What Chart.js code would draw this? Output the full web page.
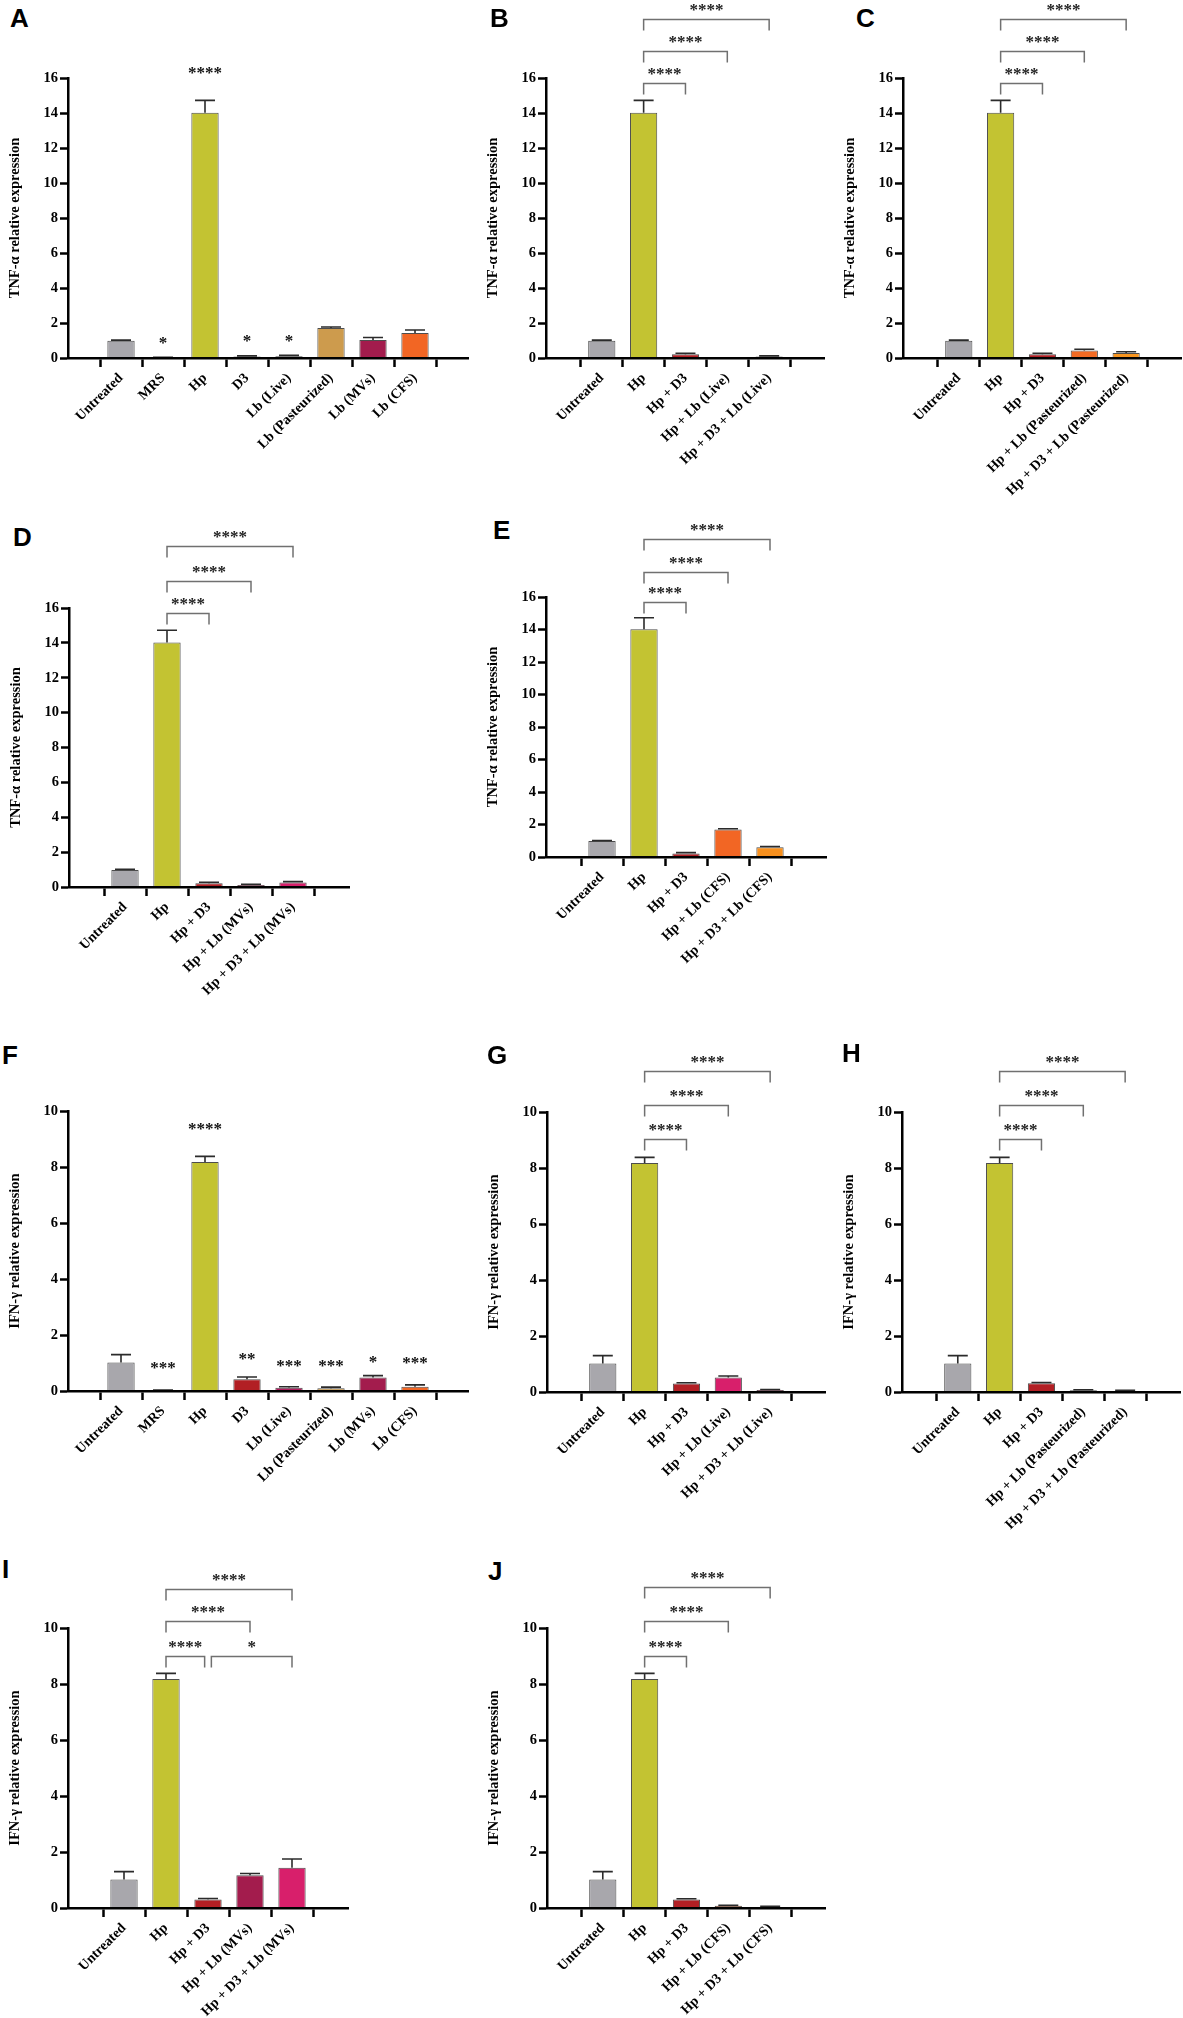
<!DOCTYPE html>
<html>
<head>
<meta charset="utf-8">
<script src="https://cdn.jsdelivr.net/npm/chart.js@4.4.1/dist/chart.umd.min.js"></script>
<style>
  body { margin: 0; background: #fff; width: 1183px; height: 2018px; position: relative; overflow: hidden; }
  canvas { position: absolute; }
  .tag { position: absolute; font: bold 26px 'Liberation Sans', Arial, sans-serif; line-height: 26px; color: #000; }
</style>
</head>
<body>
<script>
// ---- categories ----
const singleLabels = ['Untreated', 'MRS', 'Hp', 'D3', 'Lb (Live)', 'Lb (Pasteurized)', 'Lb (MVs)', 'Lb (CFS)']
const liveLabels = ['Untreated', 'Hp', 'Hp + D3', 'Hp + Lb (Live)', 'Hp + D3 + Lb (Live)']
const pastLabels = ['Untreated', 'Hp', 'Hp + D3', 'Hp + Lb (Pasteurized)', 'Hp + D3 + Lb (Pasteurized)']
const mvsLabels = ['Untreated', 'Hp', 'Hp + D3', 'Hp + Lb (MVs)', 'Hp + D3 + Lb (MVs)']
const cfsLabels = ['Untreated', 'Hp', 'Hp + D3', 'Hp + Lb (CFS)', 'Hp + D3 + Lb (CFS)']

const tnfTitle = 'TNF-α relative expression'
const ifnTitle = 'IFN-γ relative expression'

// ---- TNF-a values (mean, upper error) ----
const tnfA = [0.98, 0.03, 14.02, 0.08, 0.10, 1.72, 1.03, 1.43]
const tnfAErr = [0.04, 0.01, 0.70, 0.04, 0.05, 0.05, 0.14, 0.17]
const tnfAStars = ['', '*', '****', '*', '*', '', '', '']
const tnfAStarLevels = [0, 1.03, 16.44, 1.14, 1.14, 0, 0, 0]

const tnfB = [0.98, 14.02, 0.22, 0.0, 0.08]
const tnfBErr = [0.04, 0.70, 0.05, 0.01, 0.04]
const tnfC = [0.98, 14.02, 0.22, 0.43, 0.28]
const tnfCErr = [0.04, 0.70, 0.05, 0.07, 0.08]
const tnfD = [0.98, 14.02, 0.22, 0.12, 0.26]
const tnfDErr = [0.04, 0.70, 0.05, 0.04, 0.05]
const tnfE = [0.98, 14.02, 0.22, 1.69, 0.60]
const tnfEErr = [0.04, 0.70, 0.05, 0.05, 0.05]

// ---- IFN-g values ----
const ifnF = [1.02, 0.02, 8.18, 0.42, 0.12, 0.10, 0.48, 0.15]
const ifnFErr = [0.28, 0.01, 0.20, 0.08, 0.03, 0.04, 0.07, 0.07]
const ifnFStars = ['', '***', '****', '**', '***', '***', '*', '***']
const ifnFStarLevels = [0, 0.93, 9.46, 1.25, 1.0, 1.0, 1.14, 1.1]

const ifnG = [1.02, 8.18, 0.30, 0.52, 0.07]
const ifnGErr = [0.28, 0.20, 0.03, 0.05, 0.02]
const ifnH = [1.02, 8.18, 0.31, 0.06, 0.04]
const ifnHErr = [0.28, 0.20, 0.03, 0.02, 0.02]
const ifnI = [1.02, 8.18, 0.30, 1.17, 1.44]
const ifnIErr = [0.28, 0.20, 0.04, 0.06, 0.31]
const ifnJ = [1.02, 8.18, 0.30, 0.08, 0.04]
const ifnJErr = [0.28, 0.20, 0.03, 0.02, 0.02]

// ---- significance brackets (x = category number, level = y value) ----
const bracketsB = [
    { from: 2, to: 3, level: 15.71, text: '****' },
    { from: 2, to: 4, level: 17.54, text: '****' },
    { from: 2, to: 5, level: 19.37, text: '****' }
]
const bracketsD = [
    { from: 2, to: 3, level: 15.71, text: '****' },
    { from: 2, to: 4, level: 17.54, text: '****' },
    { from: 2, to: 5, level: 19.54, text: '****' }
]
const bracketsE = [
    { from: 2, to: 3, level: 15.69, text: '****' },
    { from: 2, to: 4, level: 17.54, text: '****' },
    { from: 2, to: 5, level: 19.57, text: '****' }
]
const bracketsGH = [
    { from: 2, to: 3, level: 9.04, text: '****' },
    { from: 2, to: 4, level: 10.25, text: '****' },
    { from: 2, to: 5, level: 11.45, text: '****' }
]
const bracketsI = [
    { from: 2, to: 2.92, level: 9.0, text: '****' },
    { from: 3.08, to: 5, level: 9.0, text: '*' },
    { from: 2, to: 4, level: 10.25, text: '****' },
    { from: 2, to: 5, level: 11.39, text: '****' }
]
const bracketsJ = [
    { from: 2, to: 3, level: 9.0, text: '****' },
    { from: 2, to: 4, level: 10.25, text: '****' },
    { from: 2, to: 5, level: 11.46, text: '****' }
]

// ---- colours ----
const gray = '#a8a7ac', hpCol = '#c3c332', d3Col = '#b21f24'
const singleColors = [gray, '#7d7d7d', hpCol, d3Col, '#b4185c', '#cd9b4d', '#a31c4d', '#f26624']

Chart.defaults.color = '#000'
Chart.defaults.font.family = "'Liberation Serif', 'Times New Roman', serif"
Chart.defaults.font.weight = 'bold'

const marks = {
    id: 'marks',
    afterDatasetsDraw(chart, args, o) {
        const ctx = chart.ctx
        const xs = chart.scales.x
        const ys = chart.scales.y
        const meta = chart.getDatasetMeta(0)
        const pts = chart.data.datasets[0].data
        ctx.save()
        // error bars (upper only)
        ctx.strokeStyle = '#2b2b2b'
        ctx.lineWidth = 1.6
        meta.data.forEach((bar, i) => {
            const e = o.errors[i]
            if (!e) return
            const y0 = ys.getPixelForValue(pts[i].y)
            const y1 = ys.getPixelForValue(pts[i].y + e)
            ctx.beginPath()
            ctx.moveTo(bar.x, y0)
            ctx.lineTo(bar.x, y1)
            ctx.moveTo(bar.x - 10, y1)
            ctx.lineTo(bar.x + 10, y1)
            ctx.stroke()
        })
        ctx.font = "bold 17px 'Liberation Serif', serif"
        ctx.textAlign = 'center'
        ctx.textBaseline = 'alphabetic'
        // stars above single bars
        ctx.fillStyle = '#111'
        ;(o.stars || []).forEach((s, i) => {
            if (!s) return
            ctx.fillText(s, xs.getPixelForValue(i + 1), ys.getPixelForValue(o.starLevels[i]) + 8)
        })
        // brackets
        ctx.strokeStyle = '#707070'
        ctx.lineWidth = 1.5
        ctx.fillStyle = '#222'
        ;(o.brackets || []).forEach(b => {
            const x0 = xs.getPixelForValue(b.from)
            const x1 = xs.getPixelForValue(b.to)
            const y = Math.round(ys.getPixelForValue(b.level)) + 0.5
            ctx.beginPath()
            ctx.moveTo(x0, y + 11)
            ctx.lineTo(x0, y)
            ctx.lineTo(x1, y)
            ctx.lineTo(x1, y + 11)
            ctx.stroke()
            ctx.fillText(b.text, (x0 + x1) / 2, y - 5)
        })
        ctx.restore()
    }
}

const panels = [
    { tag: 'A', tx: 10, ty: 8, labels: singleLabels, values: tnfA, errors: tnfAErr, colors: singleColors, stars: tnfAStars, starLevels: tnfAStarLevels, title: tnfTitle, max: 16, axisX: 68, top: 78, h: 280, step: 48 },
    { tag: 'B', tx: 490, ty: 8, labels: liveLabels, values: tnfB, errors: tnfBErr, colors: [gray, hpCol, d3Col, '#b4185c', '#7a1a3a'], brackets: bracketsB, title: tnfTitle, max: 16, axisX: 546, top: 78, h: 280, step: 52.3 },
    { tag: 'C', tx: 856, ty: 8, labels: pastLabels, values: tnfC, errors: tnfCErr, colors: [gray, hpCol, d3Col, '#f36b24', '#f8951f'], brackets: bracketsB, title: tnfTitle, max: 16, axisX: 903, top: 78, h: 280, step: 52.3 },
    { tag: 'D', tx: 13, ty: 527, labels: mvsLabels, values: tnfD, errors: tnfDErr, colors: [gray, hpCol, d3Col, '#a31c4d', '#d81f6b'], brackets: bracketsD, title: tnfTitle, max: 16, axisX: 69, top: 608, h: 279, step: 52.5 },
    { tag: 'E', tx: 493, ty: 520, labels: cfsLabels, values: tnfE, errors: tnfEErr, colors: [gray, hpCol, d3Col, '#f26624', '#f7901e'], brackets: bracketsE, title: tnfTitle, max: 16, axisX: 546, top: 597, h: 260, step: 52.5 },
    { tag: 'F', tx: 2, ty: 1045, labels: singleLabels, values: ifnF, errors: ifnFErr, colors: singleColors, stars: ifnFStars, starLevels: ifnFStarLevels, title: ifnTitle, max: 10, axisX: 68, top: 1111, h: 280, step: 48 },
    { tag: 'G', tx: 487, ty: 1045, labels: liveLabels, values: ifnG, errors: ifnGErr, colors: [gray, hpCol, d3Col, '#d81f6b', '#a31c4d'], brackets: bracketsGH, title: ifnTitle, max: 10, axisX: 547, top: 1112, h: 280, step: 52.3 },
    { tag: 'H', tx: 842, ty: 1043, labels: pastLabels, values: ifnH, errors: ifnHErr, colors: [gray, hpCol, d3Col, '#b5835a', '#8c6450'], brackets: bracketsGH, title: ifnTitle, max: 10, axisX: 902, top: 1112, h: 280, step: 52.3 },
    { tag: 'I', tx: 2, ty: 1559, labels: mvsLabels, values: ifnI, errors: ifnIErr, colors: [gray, hpCol, d3Col, '#a31c4d', '#d81f6b'], brackets: bracketsI, title: ifnTitle, max: 10, axisX: 68, top: 1628, h: 280, step: 52.5 },
    { tag: 'J', tx: 488, ty: 1561, labels: cfsLabels, values: ifnJ, errors: ifnJErr, colors: [gray, hpCol, d3Col, '#d4561e', '#8b4a3a'], brackets: bracketsJ, title: ifnTitle, max: 10, axisX: 547, top: 1628, h: 280, step: 52.3 }
]

const padTop = 95
const yW = 72
const xH = 150
const padR = 25

for (let p of panels) {
    const n = p.labels.length
    const pw = p.step * (n + 1 / 3)
    const W = Math.round(yW + pw + padR)
    const H = padTop + p.h + xH

    const tag = document.createElement('div')
    tag.className = 'tag'
    tag.textContent = p.tag
    tag.style.left = p.tx + 'px'
    tag.style.top = (p.ty - 3.5) + 'px'
    document.body.appendChild(tag)

    const cv = document.createElement('canvas')
    cv.width = W
    cv.height = H
    cv.style.width = W + 'px'
    cv.style.height = H + 'px'
    cv.style.left = (p.axisX - yW) + 'px'
    cv.style.top = (p.top - padTop) + 'px'
    document.body.appendChild(cv)

    new Chart(cv, {
        type: 'bar',
        data: {
            datasets: [{
                data: p.values.map((v, i) => ({ x: i + 1, y: v })),
                backgroundColor: p.colors,
                borderColor: '#4d4d4d',
                borderWidth: 1,
                categoryPercentage: 1,
                barPercentage: 0.65
            }]
        },
        options: {
            responsive: false,
            animation: false,
            layout: { padding: { top: padTop, right: W - yW - pw, left: 0, bottom: 0 } },
            plugins: {
                legend: { display: false },
                tooltip: { enabled: false },
                marks: { errors: p.errors, stars: p.stars, starLevels: p.starLevels, brackets: p.brackets }
            },
            scales: {
                x: {
                    type: 'linear',
                    min: 1 / 3,
                    max: n + 2 / 3,
                    afterBuildTicks: s => { s.ticks = p.labels.map((_, i) => ({ value: i + 1 })) },
                    afterFit: s => { s.height = xH },
                    ticks: {
                        autoSkip: false,
                        maxRotation: 45,
                        minRotation: 45,
                        padding: 3,
                        font: { size: 14, weight: 'bold' },
                        callback: v => p.labels[v - 1]
                    },
                    grid: { display: true, drawOnChartArea: false, drawTicks: true, tickLength: 9, tickWidth: 2.5, tickColor: '#000', color: '#000' },
                    border: { display: true, color: '#000', width: 2.5, z: 1 }
                },
                y: {
                    min: 0,
                    max: p.max,
                    afterFit: s => { s.width = yW },
                    ticks: { stepSize: 2, padding: 2, font: { size: 14.5, weight: 'bold' } },
                    grid: { display: true, drawOnChartArea: false, drawTicks: true, tickLength: 8, tickWidth: 2.5, tickColor: '#000', color: '#000' },
                    border: { display: true, color: '#000', width: 2.5, z: 1 },
                    title: { display: true, text: p.title, padding: { top: 11, bottom: 0 }, font: { size: 14.5, weight: 'bold' } }
                }
            }
        },
        plugins: [marks]
    })
}
</script>
</body>
</html>
